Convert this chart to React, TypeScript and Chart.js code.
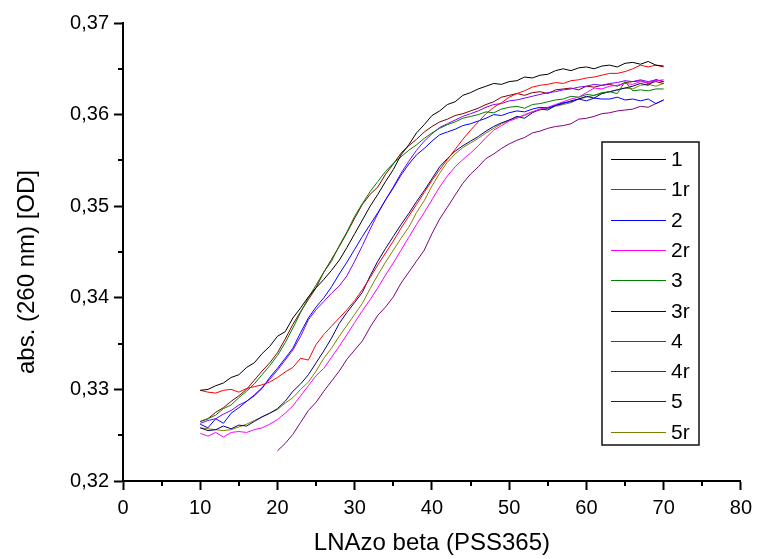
import React, { useEffect, useRef } from 'react';
import { Chart, registerables } from 'chart.js';

Chart.register(...registerables);

const FONT = "'Liberation Sans', Arial, Helvetica, sans-serif";

// x positions (LNAzo beta, PSS365)
const X_MAIN = [10, 11, 12, 13, 14, 15, 16, 17, 18, 19, 20, 21, 22, 23, 24, 25, 26, 27, 28, 29, 30, 31, 32, 33, 34, 35, 36, 37, 38, 39, 40, 41, 42, 43, 44, 45, 46, 47, 48, 49, 50, 51, 52, 53, 54, 55, 56, 57, 58, 59, 60, 61, 62, 63, 64, 65, 66, 67, 68, 69, 70];
const X_4R = [20, 21, 22, 23, 24, 25, 26, 27, 28, 29, 30, 31, 32, 33, 34, 35, 36, 37, 38, 39, 40, 41, 42, 43, 44, 45, 46, 47, 48, 49, 50, 51, 52, 53, 54, 55, 56, 57, 58, 59, 60, 61, 62, 63, 64, 65, 66, 67, 68, 69, 70];

// absorbance values (OD)
const S_1 = [0.3299, 0.3300, 0.3304, 0.3307, 0.3313, 0.3316, 0.3324, 0.3329, 0.3339, 0.3347, 0.3358, 0.3363, 0.3378, 0.3389, 0.3401, 0.3411, 0.3420, 0.3430, 0.3441, 0.3455, 0.3470, 0.3485, 0.3500, 0.3513, 0.3527, 0.3540, 0.3556, 0.3567, 0.3580, 0.3589, 0.3599, 0.3604, 0.3611, 0.3614, 0.3621, 0.3624, 0.3628, 0.3631, 0.3634, 0.3633, 0.3636, 0.3637, 0.3641, 0.3640, 0.3643, 0.3644, 0.3648, 0.3650, 0.3648, 0.3651, 0.3652, 0.3650, 0.3653, 0.3654, 0.3652, 0.3656, 0.3657, 0.3655, 0.3658, 0.3654, 0.3653];
const S_1R = [0.3299, 0.3297, 0.3296, 0.3299, 0.3300, 0.3297, 0.3301, 0.3303, 0.3305, 0.3308, 0.3313, 0.3319, 0.3324, 0.3334, 0.3332, 0.3349, 0.3360, 0.3369, 0.3378, 0.3387, 0.3397, 0.3409, 0.3422, 0.3436, 0.3449, 0.3462, 0.3476, 0.3489, 0.3502, 0.3515, 0.3528, 0.3540, 0.3551, 0.3562, 0.3573, 0.3583, 0.3592, 0.3601, 0.3608, 0.3613, 0.3619, 0.3623, 0.3626, 0.3630, 0.3632, 0.3633, 0.3635, 0.3634, 0.3637, 0.3638, 0.3640, 0.3641, 0.3643, 0.3645, 0.3645, 0.3647, 0.3650, 0.3654, 0.3652, 0.3654, 0.3652];
const S_2 = [0.3262, 0.3258, 0.3268, 0.3263, 0.3274, 0.3280, 0.3287, 0.3293, 0.3301, 0.3313, 0.3323, 0.3334, 0.3345, 0.3362, 0.3378, 0.3390, 0.3400, 0.3412, 0.3426, 0.3439, 0.3453, 0.3467, 0.3480, 0.3493, 0.3507, 0.3520, 0.3534, 0.3546, 0.3556, 0.3563, 0.3571, 0.3578, 0.3581, 0.3584, 0.3588, 0.3590, 0.3593, 0.3596, 0.3600, 0.3599, 0.3602, 0.3604, 0.3603, 0.3606, 0.3608, 0.3607, 0.3610, 0.3613, 0.3614, 0.3617, 0.3615, 0.3618, 0.3617, 0.3617, 0.3619, 0.3616, 0.3617, 0.3615, 0.3617, 0.3612, 0.3616];
const S_2R = [0.3252, 0.3249, 0.3253, 0.3248, 0.3253, 0.3254, 0.3253, 0.3256, 0.3258, 0.3262, 0.3267, 0.3274, 0.3282, 0.3293, 0.3304, 0.3315, 0.3323, 0.3335, 0.3347, 0.3360, 0.3373, 0.3386, 0.3398, 0.3411, 0.3425, 0.3438, 0.3452, 0.3466, 0.3480, 0.3493, 0.3507, 0.3521, 0.3533, 0.3543, 0.3551, 0.3558, 0.3566, 0.3575, 0.3583, 0.3588, 0.3593, 0.3596, 0.3600, 0.3603, 0.3606, 0.3608, 0.3611, 0.3614, 0.3617, 0.3619, 0.3624, 0.3629, 0.3628, 0.3631, 0.3632, 0.3634, 0.3633, 0.3636, 0.3635, 0.3637, 0.3638];
const S_3 = [0.3265, 0.3268, 0.3272, 0.3279, 0.3283, 0.3291, 0.3298, 0.3306, 0.3316, 0.3326, 0.3337, 0.3351, 0.3367, 0.3384, 0.3400, 0.3414, 0.3428, 0.3440, 0.3457, 0.3472, 0.3489, 0.3503, 0.3516, 0.3527, 0.3538, 0.3547, 0.3554, 0.3561, 0.3567, 0.3574, 0.3580, 0.3585, 0.3589, 0.3592, 0.3596, 0.3598, 0.3600, 0.3603, 0.3602, 0.3606, 0.3608, 0.3609, 0.3607, 0.3611, 0.3612, 0.3614, 0.3616, 0.3617, 0.3620, 0.3619, 0.3622, 0.3621, 0.3624, 0.3625, 0.3623, 0.3636, 0.3626, 0.3627, 0.3626, 0.3628, 0.3628];
const S_3R = [0.3258, 0.3255, 0.3256, 0.3260, 0.3257, 0.3261, 0.3260, 0.3265, 0.3270, 0.3274, 0.3279, 0.3287, 0.3298, 0.3306, 0.3316, 0.3329, 0.3342, 0.3356, 0.3372, 0.3384, 0.3395, 0.3406, 0.3424, 0.3440, 0.3454, 0.3467, 0.3480, 0.3492, 0.3505, 0.3517, 0.3530, 0.3543, 0.3552, 0.3560, 0.3566, 0.3571, 0.3576, 0.3582, 0.3587, 0.3591, 0.3594, 0.3598, 0.3596, 0.3602, 0.3606, 0.3605, 0.3610, 0.3612, 0.3615, 0.3617, 0.3620, 0.3618, 0.3623, 0.3625, 0.3627, 0.3629, 0.3631, 0.3634, 0.3632, 0.3638, 0.3636];
const S_4 = [0.3263, 0.3266, 0.3268, 0.3273, 0.3277, 0.3283, 0.3287, 0.3294, 0.3302, 0.3311, 0.3321, 0.3332, 0.3343, 0.3358, 0.3376, 0.3387, 0.3396, 0.3405, 0.3413, 0.3424, 0.3440, 0.3457, 0.3475, 0.3492, 0.3507, 0.3521, 0.3536, 0.3549, 0.3561, 0.3571, 0.3579, 0.3586, 0.3590, 0.3594, 0.3598, 0.3601, 0.3604, 0.3608, 0.3611, 0.3612, 0.3615, 0.3616, 0.3618, 0.3620, 0.3622, 0.3624, 0.3625, 0.3627, 0.3628, 0.3630, 0.3631, 0.3633, 0.3632, 0.3634, 0.3635, 0.3637, 0.3636, 0.3638, 0.3636, 0.3638, 0.3636];
const S_4R = [0.3233, 0.3241, 0.3251, 0.3264, 0.3277, 0.3286, 0.3298, 0.3309, 0.3320, 0.3333, 0.3343, 0.3353, 0.3368, 0.3381, 0.3390, 0.3401, 0.3416, 0.3428, 0.3440, 0.3452, 0.3470, 0.3486, 0.3499, 0.3512, 0.3525, 0.3535, 0.3543, 0.3552, 0.3557, 0.3563, 0.3568, 0.3572, 0.3575, 0.3580, 0.3582, 0.3585, 0.3587, 0.3588, 0.3590, 0.3595, 0.3596, 0.3598, 0.3601, 0.3602, 0.3604, 0.3605, 0.3606, 0.3609, 0.3608, 0.3612, 0.3616];
const S_5 = [0.3265, 0.3268, 0.3275, 0.3280, 0.3287, 0.3293, 0.3300, 0.3310, 0.3320, 0.3329, 0.3340, 0.3355, 0.3371, 0.3385, 0.3398, 0.3411, 0.3428, 0.3442, 0.3456, 0.3471, 0.3487, 0.3502, 0.3513, 0.3521, 0.3535, 0.3546, 0.3558, 0.3566, 0.3573, 0.3581, 0.3587, 0.3592, 0.3595, 0.3599, 0.3601, 0.3604, 0.3607, 0.3611, 0.3614, 0.3619, 0.3621, 0.3623, 0.3621, 0.3624, 0.3625, 0.3623, 0.3627, 0.3628, 0.3629, 0.3627, 0.3631, 0.3630, 0.3632, 0.3633, 0.3631, 0.3635, 0.3636, 0.3637, 0.3634, 0.3636, 0.3634];
const S_5R = [0.3258, 0.3257, 0.3256, 0.3255, 0.3256, 0.3259, 0.3262, 0.3266, 0.3270, 0.3274, 0.3278, 0.3285, 0.3291, 0.3300, 0.3308, 0.3320, 0.3334, 0.3345, 0.3358, 0.3370, 0.3382, 0.3394, 0.3410, 0.3425, 0.3439, 0.3452, 0.3465, 0.3477, 0.3493, 0.3506, 0.3522, 0.3536, 0.3548, 0.3557, 0.3564, 0.3569, 0.3574, 0.3580, 0.3585, 0.3590, 0.3594, 0.3597, 0.3599, 0.3603, 0.3605, 0.3607, 0.3609, 0.3611, 0.3613, 0.3617, 0.3619, 0.3621, 0.3623, 0.3625, 0.3627, 0.3629, 0.3628, 0.3632, 0.3633, 0.3631, 0.3634];

const SERIES_LABELS = ['1', '1r', '2', '2r', '3', '3r', '4', '4r', '5', '5r'];
const SERIES_COLORS = ['#000000', '#ff0000', '#0000ff', '#ff00ff', '#008000', '#000080', '#8000ff', '#800080', '#800000', '#808000'];
const SERIES_VALUES = [S_1, S_1R, S_2, S_2R, S_3, S_3R, S_4, S_4R, S_5, S_5R];
const SERIES_X = [X_MAIN, X_MAIN, X_MAIN, X_MAIN, X_MAIN, X_MAIN, X_MAIN, X_4R, X_MAIN, X_MAIN];

const X_MINOR = [5, 15, 25, 35, 45, 55, 65, 75];
const Y_MINOR = [0.325, 0.335, 0.345, 0.355, 0.365];

const X_TITLE = 'LNAzo beta (PSS365)';
const Y_TITLE = 'abs. (260 nm) [OD]';

const minorTicksPlugin = {
  id: 'minorTicks',
  afterDraw(chart: any) {
    const { ctx, chartArea, scales } = chart;
    const x = scales.x;
    const y = scales.y;
    ctx.save();
    ctx.strokeStyle = '#000';
    ctx.lineWidth = 2;
    ctx.beginPath();
    for (const v of X_MINOR) {
      const px = Math.round(x.getPixelForValue(v));
      ctx.moveTo(px, chartArea.bottom);
      ctx.lineTo(px, chartArea.bottom + 5);
    }
    for (const v of Y_MINOR) {
      const py = Math.round(y.getPixelForValue(v));
      ctx.moveTo(chartArea.left, py);
      ctx.lineTo(chartArea.left - 5, py);
    }
    ctx.stroke();
    ctx.restore();
  },
};

const yTitlePlugin = {
  id: 'yTitle',
  afterDraw(chart: any) {
    const { ctx, chartArea } = chart;
    ctx.save();
    ctx.translate(27, (chartArea.top + chartArea.bottom) / 2 + 20);
    ctx.rotate(-Math.PI / 2);
    ctx.font = `24px ${FONT}`;
    ctx.fillStyle = '#000';
    ctx.textAlign = 'center';
    ctx.textBaseline = 'middle';
    ctx.fillText(Y_TITLE, 0, 0);
    ctx.restore();
  },
};

const legendBoxPlugin = {
  id: 'legendBox',
  afterDraw(chart: any) {
    const { ctx } = chart;
    const left = 602;
    const top = 142;
    const w = 97;
    const h = 303;
    ctx.save();
    ctx.fillStyle = '#fff';
    ctx.fillRect(left, top, w, h);
    ctx.strokeStyle = '#111';
    ctx.lineWidth = 1.5;
    ctx.strokeRect(left, top, w, h);
    ctx.font = `21px ${FONT}`;
    ctx.textBaseline = 'middle';
    ctx.textAlign = 'left';
    chart.data.datasets.forEach((ds: any, i: number) => {
      const yy = Math.round(159 + i * 30.3) + 0.5;
      ctx.strokeStyle = ds.borderColor;
      ctx.lineWidth = 1;
      ctx.beginPath();
      ctx.moveTo(611, yy);
      ctx.lineTo(666, yy);
      ctx.stroke();
      ctx.fillStyle = '#000';
      ctx.fillText(ds.label, 671, yy + 1);
    });
    ctx.restore();
  },
};

export default function App() {
  const canvasRef = useRef<HTMLCanvasElement | null>(null);

  useEffect(() => {
    const canvas = canvasRef.current;
    if (!canvas) return;
    const datasets = SERIES_LABELS.map((label, i) => ({
      label,
      data: SERIES_X[i].map((xv, j) => ({ x: xv, y: SERIES_VALUES[i][j] })),
      borderColor: SERIES_COLORS[i],
      backgroundColor: SERIES_COLORS[i],
      borderWidth: 1,
      pointRadius: 0,
      tension: 0,
      fill: false,
    }));
    const chart = new Chart(canvas, {
      type: 'line',
      data: { datasets },
      options: {
        animation: false,
        responsive: false,
        maintainAspectRatio: false,
        devicePixelRatio: 1,
        layout: { padding: { left: 0, top: 23, right: 13, bottom: 0 } },
        plugins: {
          legend: { display: false },
          tooltip: { enabled: false },
        },
        scales: {
          x: {
            type: 'linear',
            min: 0,
            max: 80,
            ticks: {
              stepSize: 10,
              color: '#000',
              font: { size: 20, family: FONT },
              padding: 6,
              maxRotation: 0,
            },
            grid: {
              drawOnChartArea: false,
              drawTicks: true,
              tickLength: 9,
              tickWidth: 2,
              tickColor: '#000',
            },
            border: { color: '#000', width: 2 },
            title: {
              display: true,
              text: X_TITLE,
              color: '#000',
              font: { size: 24, family: FONT },
              padding: { top: 0, bottom: 1 },
            },
            afterFit: (s: any) => {
              s.height = 78;
            },
          },
          y: {
            type: 'linear',
            min: 0.32,
            max: 0.37,
            ticks: {
              stepSize: 0.01,
              color: '#000',
              font: { size: 20, family: FONT },
              padding: 5,
              callback: (v: any) => Number(v).toFixed(2).replace('.', ','),
            },
            grid: {
              drawOnChartArea: false,
              drawTicks: true,
              tickLength: 9,
              tickWidth: 2,
              tickColor: '#000',
            },
            border: { color: '#000', width: 2 },
            title: { display: false },
            afterFit: (s: any) => {
              s.width = 123;
            },
          },
        },
      },
      plugins: [minorTicksPlugin, yTitlePlugin, legendBoxPlugin],
    } as any);
    return () => {
      chart.destroy();
    };
  }, []);

  return (
    <div style={{ position: 'fixed', left: 0, top: 0, width: 758, height: 559, background: '#fff' }}>
      <canvas ref={canvasRef} width={758} height={559} style={{ display: 'block', width: 758, height: 559 }} />
    </div>
  );
}
